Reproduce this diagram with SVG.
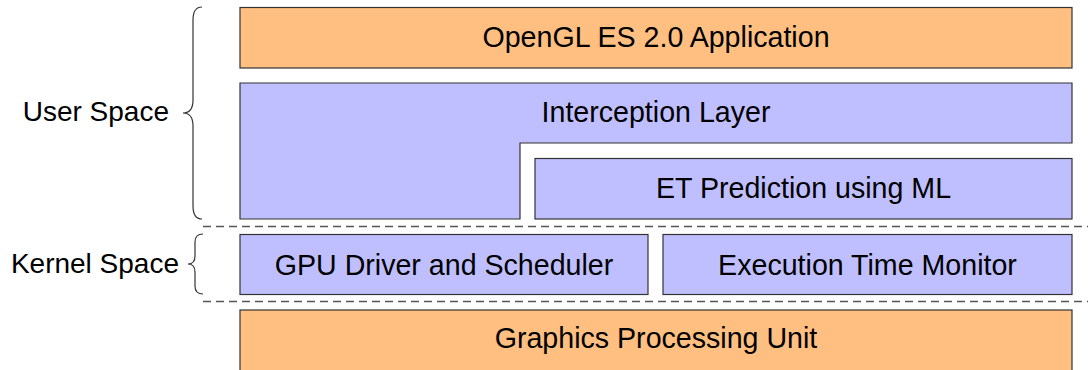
<svg xmlns="http://www.w3.org/2000/svg" width="1091" height="370" viewBox="0 0 1091 370">
<style>
.orange{fill:#FFBF80;stroke:#333;stroke-width:1.2}
.blue{fill:#BFBFFF;stroke:#333;stroke-width:1.2}
text{font-family:"Liberation Sans",Arial,sans-serif;font-size:28.6px;fill:#000}
.c{text-anchor:middle}
.e{text-anchor:end;font-size:28px}
.dash{stroke:#555;stroke-width:1.3;stroke-dasharray:8 5;fill:none}
.brace{fill:none;stroke:#333;stroke-width:1.2}
</style>
<rect width="1091" height="370" fill="#fff"/>
<g id="app"><rect class="orange" x="240" y="7.5" width="832" height="60.5"/><text class="c" x="656" y="47">OpenGL ES 2.0 Application</text></g>
<g id="interception"><path class="blue" d="M240,83 H1072 V143 H520 V219 H240 Z"/><text class="c" x="656" y="122">Interception Layer</text></g>
<g id="et-prediction"><rect class="blue" x="535" y="158.5" width="537" height="60.5"/><text class="c" x="803.5" y="198">ET Prediction using ML</text></g>
<g id="gpu-driver"><rect class="blue" x="240" y="234.5" width="408" height="60"/><text class="c" x="444" y="274.5">GPU Driver and Scheduler</text></g>
<g id="et-monitor"><rect class="blue" x="663" y="234.5" width="409" height="60"/><text class="c" x="867.5" y="274.5">Execution Time Monitor</text></g>
<g id="gpu"><rect class="orange" x="240" y="310" width="832" height="70"/><text class="c" x="656" y="348">Graphics Processing Unit</text></g>
<g id="user-space"><path class="brace" d="M202,7 C195,7 193,12 193,20 L193,100 C193,108 190,113 183,113 C190,113 193,118 193,126 L193,206 C193,214 195,219 202,219"/><text class="e" x="169" y="121">User Space</text></g>
<g id="kernel-space"><path class="brace" d="M203,234 C198,234 195,237 195,242 L195,256 C195,261 193,264 188,264 C193,264 195,267 195,272 L195,286 C195,291 198,294 203,294"/><text class="e" x="179" y="273">Kernel Space</text></g>
<g id="connectors"><line class="dash" x1="203" y1="226.5" x2="1088" y2="226.5"/><line class="dash" x1="203" y1="301.5" x2="1088" y2="301.5"/></g>
</svg>
